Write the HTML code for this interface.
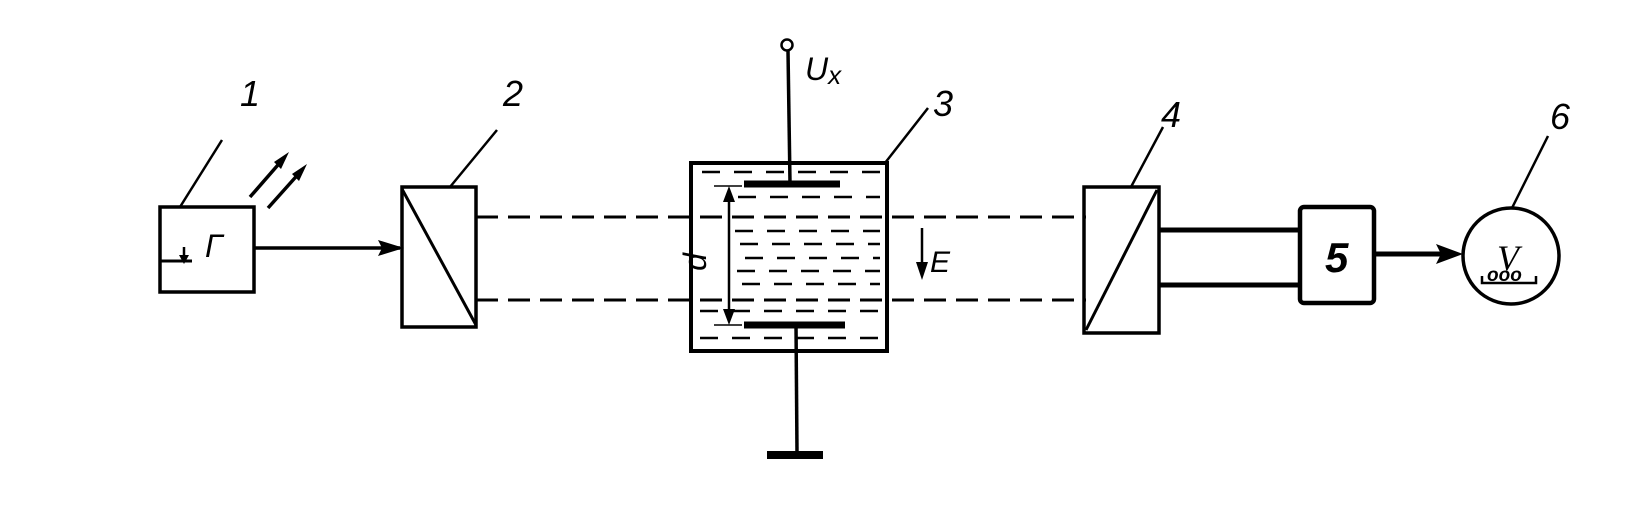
<!DOCTYPE html>
<html><head><meta charset="utf-8"><style>
html,body{margin:0;padding:0;background:#fff;}
svg{display:block;}
text{font-family:"Liberation Sans",sans-serif;font-style:italic;fill:#000;}
</style></head><body>
<svg width="1648" height="519" viewBox="0 0 1648 519" xmlns="http://www.w3.org/2000/svg">
<g stroke="#000" fill="none" stroke-width="3.5">
<rect x="160" y="207" width="94" height="85"/>
<line x1="160" y1="261" x2="192" y2="261" stroke-width="3"/>
<line x1="184" y1="247" x2="184" y2="258" stroke-width="2.5"/>
<line x1="180" y1="207" x2="222" y2="140" stroke-width="2.5"/>
<line x1="250" y1="197" x2="284" y2="158" stroke-width="3.5"/>
<line x1="268" y1="208" x2="302" y2="170" stroke-width="3.5"/>
<line x1="254" y1="248" x2="400" y2="248" stroke-width="3.5"/>
<rect x="402" y="187" width="74" height="140"/>
<line x1="402" y1="189" x2="476" y2="325" stroke-width="3"/>
<line x1="450" y1="187" x2="497" y2="130" stroke-width="2.5"/>
<line x1="476" y1="217" x2="1086" y2="217" stroke-width="3" stroke-dasharray="22,10"/>
<line x1="476" y1="300" x2="1086" y2="300" stroke-width="3" stroke-dasharray="22,10"/>
<rect x="691" y="163" width="196" height="188" fill="none" stroke-width="4"/>
<line x1="885" y1="163" x2="928" y2="108" stroke-width="2.5"/>
<circle cx="787" cy="45" r="5.5" stroke-width="2.5"/>
<line x1="788" y1="51" x2="790" y2="183" stroke-width="3.5"/>
<line x1="744" y1="184" x2="840" y2="184" stroke-width="7"/>
<line x1="744" y1="325" x2="845" y2="325" stroke-width="7"/>
<line x1="796" y1="325" x2="797" y2="452" stroke-width="3.5"/>
<line x1="767" y1="455" x2="823" y2="455" stroke-width="8"/>
<line x1="729" y1="190" x2="729" y2="320" stroke-width="2.5"/>
<line x1="714" y1="186" x2="742" y2="186" stroke-width="1.5"/>
<line x1="714" y1="325" x2="742" y2="325" stroke-width="1.5"/>
<line x1="922" y1="228" x2="922" y2="270" stroke-width="2.5"/>
<rect x="1084" y="187" width="75" height="146"/>
<line x1="1086" y1="330" x2="1157" y2="190" stroke-width="3"/>
<line x1="1131" y1="187" x2="1163" y2="127" stroke-width="2.5"/>
<line x1="1159" y1="230" x2="1300" y2="230" stroke-width="5"/>
<line x1="1159" y1="285" x2="1300" y2="285" stroke-width="5"/>
<rect x="1300" y="207" width="74" height="96" rx="4" stroke-width="4.5"/>
<line x1="1374" y1="254" x2="1450" y2="254" stroke-width="5"/>
<circle cx="1511" cy="256" r="48" stroke-width="3.5"/>
<line x1="1512" y1="208" x2="1548" y2="136" stroke-width="2.5"/>
<polyline points="1482,276 1482,283 1536,283 1536,276" stroke-width="2.5"/>
</g>
<g fill="#000">
<polygon points="289,152 274,162 281,169"/>
<polygon points="307,164 292,174 299,181"/>
<polygon points="404,248 378,240 382,248 378,256"/>
<polygon points="179,255 189,255 184,264"/>
<polygon points="729,186 723,202 735,202"/>
<polygon points="729,325 723,309 735,309"/>
<polygon points="922,280 916,262 928,262"/>
<polygon points="1463,254 1436,244 1441,254 1436,264"/>
</g>
<g stroke="#000" stroke-width="2.5" stroke-dasharray="18,14">
<line x1="702" y1="172" x2="880" y2="172"/>
<line x1="738" y1="197" x2="880" y2="197"/>
<line x1="735" y1="231" x2="880" y2="231"/>
<line x1="740" y1="244" x2="880" y2="244"/>
<line x1="745" y1="258" x2="880" y2="258"/>
<line x1="737" y1="271" x2="880" y2="271"/>
<line x1="742" y1="284" x2="880" y2="284"/>
<line x1="700" y1="311" x2="880" y2="311"/>
<line x1="700" y1="338" x2="880" y2="338"/>
</g>
<text x="240" y="106" font-size="36">1</text>
<text x="503" y="106" font-size="36">2</text>
<text x="933" y="116" font-size="36">3</text>
<text x="1161" y="127" font-size="36">4</text>
<text x="1550" y="129" font-size="36">6</text>
<text x="205" y="257" font-size="32" font-style="normal">Γ</text>
<text x="805" y="80" font-size="32">U<tspan font-size="26" dy="4">x</tspan></text>
<text x="930" y="272" font-size="30">E</text>
<text x="1325" y="272" font-size="42" font-weight="bold">5</text>
<text x="1497" y="270" font-size="36" font-style="normal" style="font-family:'Liberation Serif',serif">V</text>
<text x="1487" y="281" font-size="19" font-weight="bold" font-style="normal">ooo</text>
<text transform="translate(706,262) rotate(-90)" font-size="32" text-anchor="middle">d</text>
</svg>
</body></html>
